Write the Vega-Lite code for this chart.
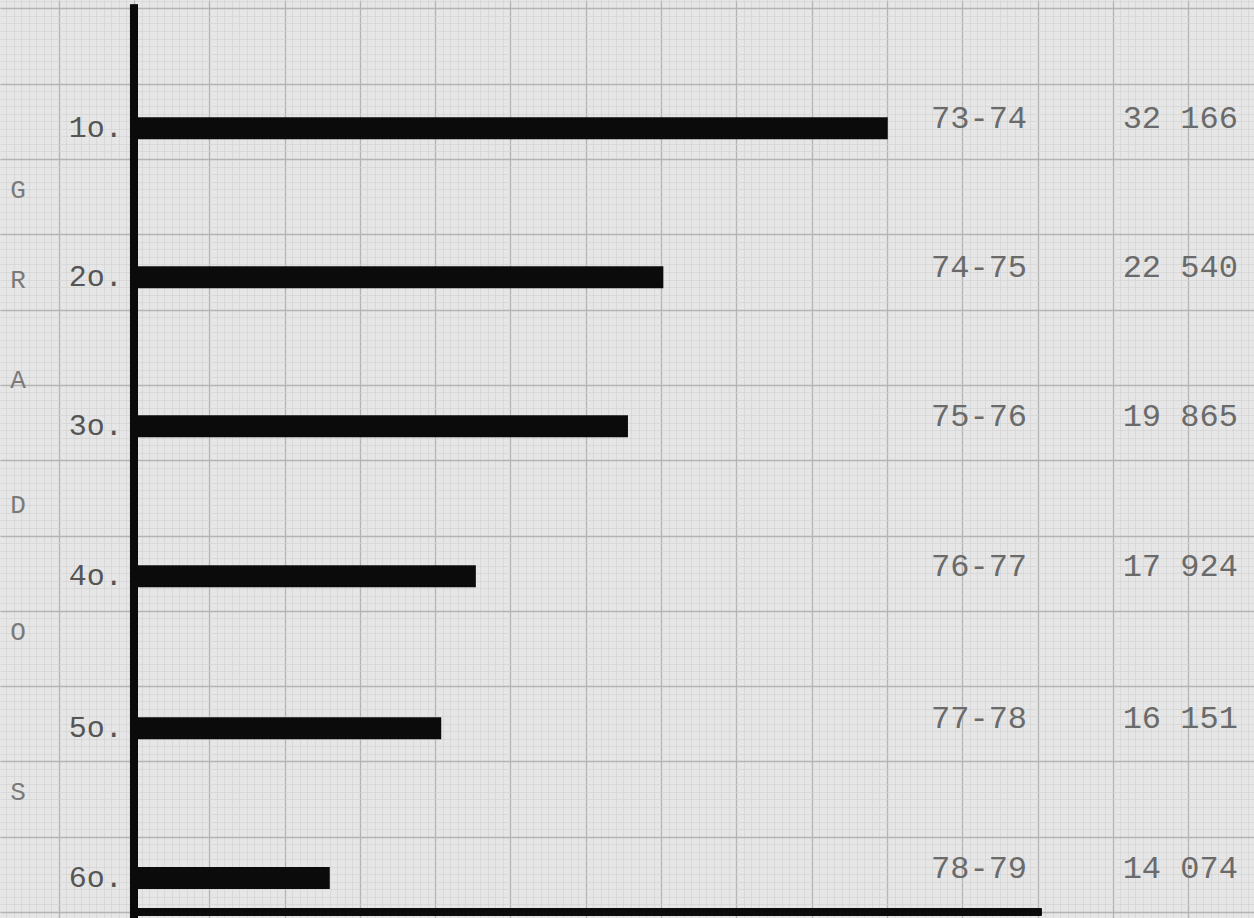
{
  "$schema": "https://vega.github.io/schema/vega-lite/v6.json",
  "width": 1254,
  "height": 918,
  "padding": 0,
  "autosize": {"type": "none"},
  "background": "#e6e6e6",
  "config": {"view": {"stroke": null}},
  "datasets": {
    "bars": [
      {"grado": "1o.", "periodo": "73-74", "valor": "32 166", "largo": 10.01, "fila": 10.41},
      {"grado": "2o.", "periodo": "74-75", "valor": "22 540", "largo": 7.03, "fila": 8.43},
      {"grado": "3o.", "periodo": "75-76", "valor": "19 865", "largo": 6.56, "fila": 6.45},
      {"grado": "4o.", "periodo": "76-77", "valor": "17 924", "largo": 4.54, "fila": 4.46},
      {"grado": "5o.", "periodo": "77-78", "valor": "16 151", "largo": 4.08, "fila": 2.44},
      {"grado": "6o.", "periodo": "78-79", "valor": "14 074", "largo": 2.60, "fila": 0.45}
    ],
    "letras": [
      {"letra": "G", "pos": 9.59},
      {"letra": "R", "pos": 8.39},
      {"letra": "A", "pos": 7.06},
      {"letra": "D", "pos": 5.40},
      {"letra": "O", "pos": 3.72},
      {"letra": "S", "pos": 1.59}
    ]
  },
  "data": {"name": "bars"},
  "resolve": {"axis": {"x": "independent", "y": "independent"}},
  "layer": [
    {
      "mark": {"type": "rule", "strokeWidth": 22, "strokeCap": "butt", "color": "#0b0b0b"},
      "encoding": {
        "x": {"field": "largo", "type": "quantitative",
              "scale": {"domain": [-1.7795, 14.874], "nice": false, "zero": false},
              "axis": {"grid": true, "tickCount": 170, "gridColor": "#d3d3d3", "gridWidth": 0.7, "labels": false, "ticks": false, "domain": false, "title": null}},
        "x2": {"datum": 0},
        "y": {"field": "fila", "type": "quantitative",
              "scale": {"domain": [-0.0797, 12.112], "nice": false, "zero": false},
              "axis": {"grid": true, "tickCount": 125, "gridColor": "#d3d3d3", "gridWidth": 0.7, "labels": false, "ticks": false, "domain": false, "title": null}}
      }
    },
    {
      "mark": {"type": "rule", "strokeWidth": 8, "color": "#0b0b0b"},
      "encoding": {
        "x": {"datum": 0, "type": "quantitative",
              "axis": {"grid": true, "values": [-1, 0, 1, 2, 3, 4, 5, 6, 7, 8, 9, 10, 11, 12, 13, 14], "gridColor": "#b4b4b4", "gridWidth": 1.3, "labels": false, "ticks": false, "domain": false, "title": null}},
        "y": {"datum": -0.1, "type": "quantitative",
              "axis": {"grid": true, "values": [0, 1, 2, 3, 4, 5, 6, 7, 8, 9, 10, 11, 12], "gridColor": "#b4b4b4", "gridWidth": 1.3, "labels": false, "ticks": false, "domain": false, "title": null}},
        "y2": {"datum": 12.05}
      }
    },
    {
      "mark": {"type": "rule", "strokeWidth": 7, "color": "#0b0b0b"},
      "encoding": {
        "x": {"datum": 0, "type": "quantitative", "axis": null},
        "x2": {"datum": 12.05},
        "y": {"datum": 0, "type": "quantitative", "axis": null}
      }
    },
    {
      "mark": {"type": "text", "font": "Liberation Mono", "fontSize": 30, "color": "#555555", "align": "right", "baseline": "middle"},
      "encoding": {
        "x": {"datum": -0.15, "type": "quantitative", "axis": null},
        "y": {"field": "fila", "type": "quantitative", "axis": null},
        "text": {"field": "grado"}
      }
    },
    {
      "mark": {"type": "text", "font": "Liberation Mono", "fontSize": 32, "color": "#6a6a6a", "align": "right", "baseline": "middle", "dy": -10},
      "encoding": {
        "x": {"datum": 11.86, "type": "quantitative", "axis": null},
        "y": {"field": "fila", "type": "quantitative", "axis": null},
        "text": {"field": "periodo"}
      }
    },
    {
      "mark": {"type": "text", "font": "Liberation Mono", "fontSize": 32, "color": "#6a6a6a", "align": "right", "baseline": "middle", "dy": -10},
      "encoding": {
        "x": {"datum": 14.66, "type": "quantitative", "axis": null},
        "y": {"field": "fila", "type": "quantitative", "axis": null},
        "text": {"field": "valor"}
      }
    },
    {
      "data": {"name": "letras"},
      "mark": {"type": "text", "font": "Liberation Mono", "fontSize": 26, "color": "#7a7a7a", "align": "center", "baseline": "middle"},
      "encoding": {
        "x": {"datum": -1.54, "type": "quantitative", "axis": null},
        "y": {"field": "pos", "type": "quantitative", "axis": null},
        "text": {"field": "letra"}
      }
    }
  ]
}
